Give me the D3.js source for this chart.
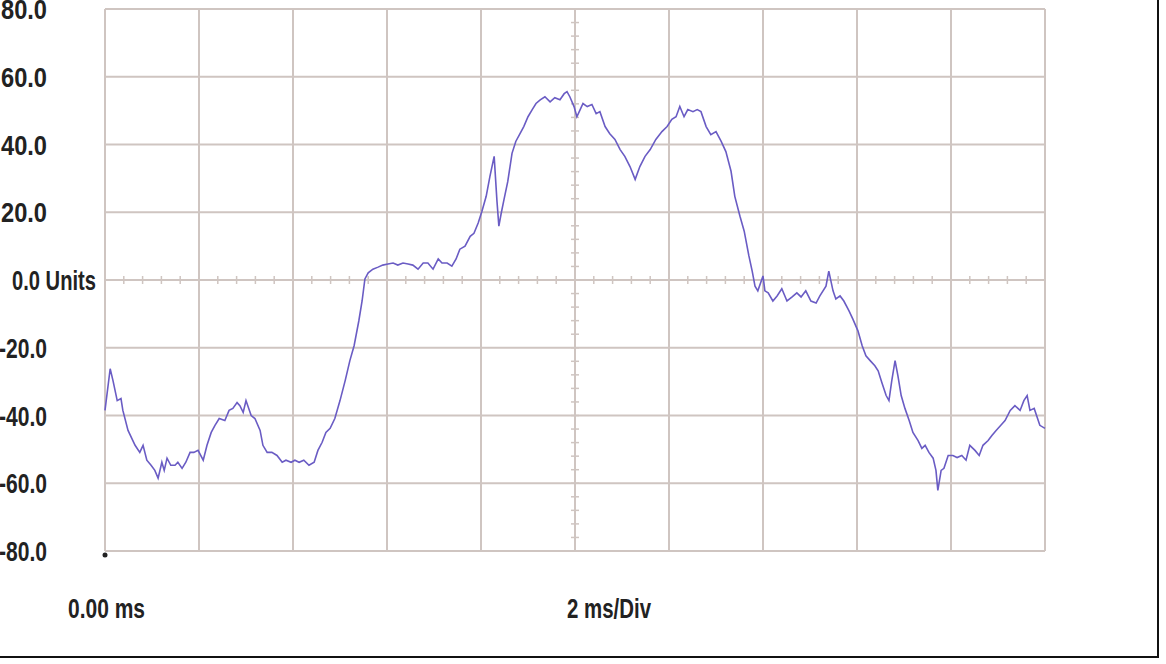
<!DOCTYPE html>
<html><head><meta charset="utf-8">
<script src="https://cdn.jsdelivr.net/npm/d3@7"></script>
<style>
body{margin:0;background:#fff;}
text{font-family:"Liberation Sans Narrow","Liberation Sans",sans-serif;font-weight:bold;fill:#222;}
</style></head>
<body><div id="chart"></div>
<script>
// trace samples
var timeMs = [0,0.11,0.17,0.26,0.34,0.38,0.49,0.64,0.74,0.81,0.89,0.98,1.06,1.13,1.21,1.26,1.32,1.40,1.49,1.55,1.64,1.72,1.81,1.89,1.98,2.09,2.17,2.26,2.34,2.43,2.55,2.64,2.72,2.81,2.87,2.94,3.00,3.11,3.19,3.30,3.36,3.45,3.55,3.66,3.77,3.85,3.96,4.04,4.13,4.23,4.34,4.45,4.53,4.62,4.70,4.79,4.89,5.00,5.11,5.21,5.30,5.40,5.47,5.53,5.60,5.70,5.81,5.91,6.02,6.13,6.23,6.34,6.45,6.55,6.66,6.77,6.87,6.98,7.09,7.17,7.28,7.38,7.47,7.55,7.66,7.77,7.85,7.94,8.02,8.11,8.19,8.28,8.34,8.38,8.43,8.49,8.57,8.66,8.74,8.83,8.91,9.00,9.09,9.17,9.26,9.36,9.47,9.57,9.68,9.77,9.83,9.89,9.98,10.04,10.11,10.17,10.26,10.36,10.45,10.53,10.64,10.74,10.85,10.96,11.06,11.17,11.28,11.38,11.49,11.60,11.72,11.85,11.96,12.06,12.15,12.23,12.32,12.40,12.51,12.60,12.68,12.79,12.89,13.00,13.11,13.21,13.32,13.40,13.51,13.60,13.70,13.77,13.83,13.89,14.00,14.04,14.11,14.21,14.30,14.40,14.51,14.62,14.72,14.81,14.91,15.02,15.13,15.21,15.34,15.40,15.49,15.55,15.64,15.72,15.83,15.91,16.02,16.11,16.19,16.28,16.38,16.45,16.53,16.62,16.68,16.74,16.81,16.87,16.94,17.02,17.11,17.19,17.30,17.38,17.45,17.53,17.62,17.68,17.72,17.79,17.85,17.94,18.04,18.13,18.23,18.32,18.40,18.51,18.60,18.68,18.79,18.87,18.96,19.06,19.15,19.26,19.36,19.47,19.55,19.62,19.68,19.77,19.89,20.00];
var units = [-38.5,-26.2,-29.7,-35.6,-35.0,-38.5,-44.4,-48.8,-50.9,-48.8,-53.2,-54.7,-56.2,-58.5,-53.8,-56.2,-52.6,-54.7,-54.7,-53.8,-55.6,-53.8,-50.9,-50.9,-50.3,-53.2,-48.8,-45.0,-42.9,-40.9,-41.5,-38.5,-37.9,-36.2,-37.1,-39.1,-35.6,-40.0,-40.9,-44.4,-48.8,-50.9,-50.9,-51.8,-53.8,-53.2,-53.8,-53.2,-53.8,-53.2,-54.7,-53.8,-50.3,-47.9,-45.0,-43.8,-40.9,-35.6,-29.7,-23.8,-19.4,-12.1,-6.2,0.3,2.1,3.2,3.8,4.4,4.7,5.0,4.4,5.0,4.7,4.4,3.2,5.0,5.0,3.2,6.2,5.0,5.0,4.1,6.2,9.1,10.0,12.9,13.8,16.8,20.3,24.7,30.6,36.5,23.2,15.9,19.7,23.8,29.1,37.4,40.9,43.2,45.3,48.2,50.3,52.1,53.2,54.1,52.6,53.8,53.2,55.0,55.6,54.1,51.2,48.2,50.3,52.1,51.2,51.8,49.1,49.7,45.3,43.2,41.5,38.5,36.5,33.5,29.7,33.5,36.5,38.5,41.5,43.8,45.3,47.4,48.2,51.2,48.2,50.3,49.7,50.3,49.7,45.3,42.9,43.8,40.9,37.9,32.1,24.7,18.8,14.4,7.1,2.6,-1.8,-3.2,1.2,-3.2,-3.8,-6.2,-4.7,-2.6,-6.2,-5.0,-3.8,-5.0,-3.2,-6.2,-6.8,-4.7,-1.8,2.6,-3.2,-5.6,-4.7,-6.2,-9.1,-11.5,-15.0,-19.4,-22.4,-23.8,-25.3,-26.8,-30.3,-34.1,-35.6,-29.7,-23.8,-28.2,-34.1,-37.9,-41.5,-45.0,-47.4,-49.7,-48.8,-50.9,-52.6,-56.2,-62.1,-56.2,-55.6,-51.8,-51.8,-52.4,-51.8,-53.2,-48.8,-50.3,-51.8,-48.8,-47.4,-45.9,-44.4,-42.9,-41.5,-38.5,-37.1,-38.5,-35.6,-34.1,-38.5,-37.9,-42.9,-43.8];
var yTicks = [80,60,40,20,0,-20,-40,-60,-80];
var yTickLabels = ["80.0","60.0","40.0","20.0","0.0 Units","-20.0","-40.0","-60.0","-80.0"];
var xDivs = d3.range(0, 21, 2);

var w = 1166, h = 664;
var svg = d3.select("#chart").append("svg").attr("width", w).attr("height", h);

var x = d3.scaleLinear().domain([0, 20]).range([105, 1045]);
var y = d3.scaleLinear().domain([-80, 80]).range([551, 9]);
var gridCol = "#cfc5c1";

// grid
svg.append("g").selectAll("line").data(xDivs).enter().append("line")
    .attr("x1", d => x(d)).attr("x2", d => x(d))
    .attr("y1", y(80)).attr("y2", y(-80))
    .attr("stroke", gridCol).attr("stroke-width", 2);
svg.append("g").selectAll("line").data(yTicks).enter().append("line")
    .attr("x1", x(0)).attr("x2", x(20))
    .attr("y1", d => y(d)).attr("y2", d => y(d))
    .attr("stroke", gridCol).attr("stroke-width", 2);

// minor ticks on the centre axes
var minorX = d3.range(0, 20.01, 0.4);
var minorY = d3.range(-80, 80.01, 4);
svg.append("g").selectAll("line").data(minorX).enter().append("line")
    .attr("x1", d => x(d)).attr("x2", d => x(d))
    .attr("y1", y(0) - 4).attr("y2", y(0) + 4)
    .attr("stroke", gridCol).attr("stroke-width", 1.5);
svg.append("g").selectAll("line").data(minorY).enter().append("line")
    .attr("x1", x(10) - 4).attr("x2", x(10) + 4)
    .attr("y1", d => y(d)).attr("y2", d => y(d))
    .attr("stroke", gridCol).attr("stroke-width", 1.5);

// trace
var line = d3.line()
    .x(function(d, i) { return x(timeMs[i]); })
    .y(function(d) { return y(d); });
svg.append("path").datum(units)
    .attr("d", line).attr("fill", "none")
    .attr("stroke", "#6a5cc4").attr("stroke-width", 1.6);

// y labels, squeezed to look like the condensed face
svg.append("g").selectAll("text").data(yTicks).enter().append("text")
    .attr("x", d => d === 0 ? 96 : 47)
    .attr("y", d => y(d) + 10)
    .attr("text-anchor", "end")
    .attr("font-size", 27)
    .attr("textLength", d => d === 0 ? 84 : (d < 0 ? 48 : 46))
    .attr("lengthAdjust", "spacingAndGlyphs")
    .text((d, i) => yTickLabels[i]);

svg.append("circle").attr("cx", x(0)).attr("cy", y(-80) + 4).attr("r", 2.5).attr("fill", "#222");

svg.append("text").attr("x", 68).attr("y", 618).attr("font-size", 27)
    .attr("textLength", 77).attr("lengthAdjust", "spacingAndGlyphs").text("0.00 ms");
svg.append("text").attr("x", 567).attr("y", 618).attr("font-size", 27)
    .attr("textLength", 84).attr("lengthAdjust", "spacingAndGlyphs").text("2 ms/Div");

// frame edges
svg.append("line").attr("x1", 0).attr("x2", 1159).attr("y1", 657).attr("y2", 657).attr("stroke", "#111").attr("stroke-width", 2);
svg.append("line").attr("x1", 1158).attr("x2", 1158).attr("y1", 0).attr("y2", 657).attr("stroke", "#111").attr("stroke-width", 2);
</script></body></html>
